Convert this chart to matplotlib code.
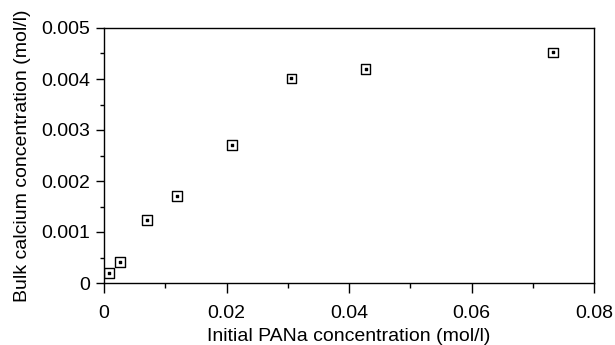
import matplotlib
matplotlib.use('Agg')
import matplotlib.pyplot as plt
from matplotlib.ticker import MultipleLocator

plt.rcParams['font.family'] = ['Liberation Sans', 'DejaVu Sans']

pana = [0.0008, 0.0026, 0.0070, 0.0119, 0.0209, 0.0306, 0.0427, 0.0733]
calcium = [0.00020, 0.00041, 0.00124, 0.00171, 0.00270, 0.00401, 0.00420, 0.00452]

fig = plt.figure(figsize=(6.15, 3.45), dpi=100)
ax = fig.add_axes([104 / 615, 62 / 345, 490 / 615, 255 / 345])
ax.scatter(pana, calcium, marker='s', s=50, facecolors='none', edgecolors='black', linewidths=1.0)
ax.scatter(pana, calcium, marker='s', s=4, color='black')

ax.set_xlim(0, 0.08)
ax.set_ylim(0, 0.005)
ax.set_xticks([0, 0.02, 0.04, 0.06, 0.08])
ax.set_xticklabels(['0', '0.02', '0.04', '0.06', '0.08'])
ax.set_yticks([0, 0.001, 0.002, 0.003, 0.004, 0.005])
ax.set_yticklabels(['0', '0.001', '0.002', '0.003', '0.004', '0.005'])
ax.xaxis.set_minor_locator(MultipleLocator(0.01))
ax.yaxis.set_minor_locator(MultipleLocator(0.0005))
ax.tick_params(axis='both', which='both', direction='out', labelsize=14, width=1.0)
ax.tick_params(axis='x', which='major', length=7, pad=9)
ax.tick_params(axis='x', which='minor', length=3.5)
ax.tick_params(axis='y', which='major', length=6, pad=4)
ax.tick_params(axis='y', which='minor', length=3)
for s in ax.spines.values():
    s.set_linewidth(1.0)

ax.set_xlabel('Initial PANa concentration (mol/l)', fontsize=14, labelpad=4)
ax.set_ylabel('Bulk calcium concentration (mol/l)', fontsize=14, labelpad=7)

fig.savefig('out.png', dpi=100)
